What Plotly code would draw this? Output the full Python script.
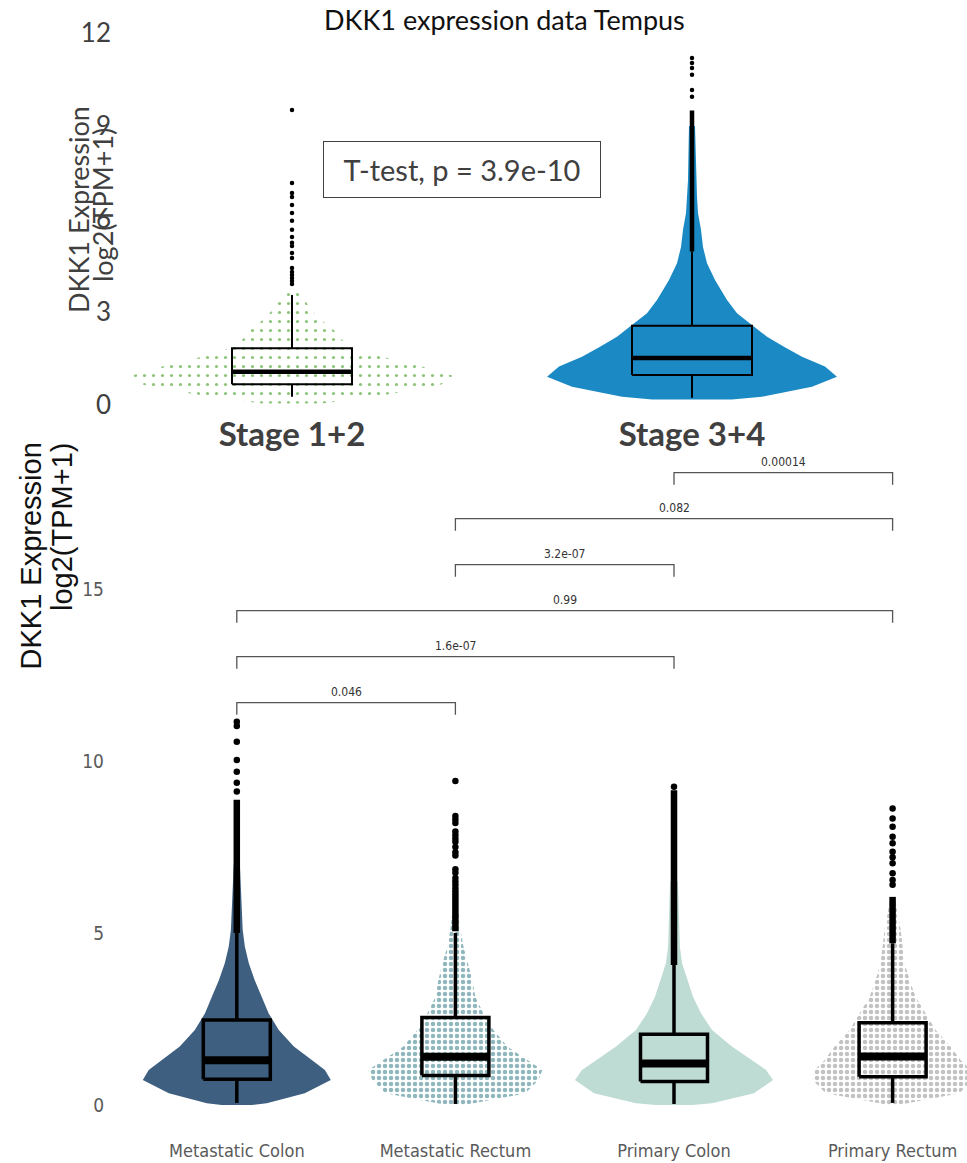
import plotly.graph_objects as go

# ---------------- DATA ----------------
title_text = "DKK1 expression data Tempus"

# Top panel (stage comparison)
top_categories = ["Stage 1+2", "Stage 3+4"]
top_colors = ["#8fc47c", "#1b8ac4"]
top_ticks = [0, 3, 6, 9, 12]
top_q1 = [0.67, 0.97]
top_median = [1.07, 1.52]
top_q3 = [1.83, 2.56]
top_lower = [0.27, 0.23]
top_upper = [3.55, 4.95]
top_dense_outliers = [None, (4.95, 9.5)]
stage12_outliers = [3.90, 4.00, 4.10, 4.19, 4.29, 4.42, 4.74, 4.90, 5.13, 5.23,
                    5.42, 5.65, 5.94, 6.19, 6.45, 6.71, 6.84, 7.16, 9.52]
stage34_outliers = [9.94, 10.16, 10.65, 10.87, 11.03, 11.19]
# cloud profile: expression level vs half-width (fraction of category spacing)
stage12_levels = [0.05, 0.27, 0.59, 0.86, 1.13, 1.45, 1.72, 2.10, 2.42, 2.85, 3.28, 3.60, 3.75]
stage12_halfw = [0.075, 0.205, 0.355, 0.42, 0.36, 0.26, 0.175, 0.125, 0.105, 0.0625, 0.0375, 0.025, 0.01]
stage34_levels = [0.18, 0.27, 0.59, 0.91, 1.24, 1.56, 1.88, 2.20, 2.53, 2.96, 3.39, 4.03,
                  4.57, 5.10, 5.65, 6.19, 6.72, 7.26, 8.0, 9.0]
stage34_halfw = [0.10, 0.175, 0.30, 0.3625, 0.3325, 0.275, 0.23, 0.1875, 0.155, 0.1125,
                 0.0875, 0.0575, 0.0375, 0.0275, 0.0225, 0.015, 0.0125, 0.01, 0.009, 0.0075]
ttest_label = "T-test, p = 3.9e-10"

# Bottom panel (site comparison)
bot_categories = ["Metastatic Colon", "Metastatic Rectum", "Primary Colon", "Primary Rectum"]
bot_colors = ["#3e5f80", "#8fb7bc", "#bfdcd4", "#c2c2c2"]
bot_ticks = [0, 5, 10, 15]
bot_q1 = [0.75, 0.86, 0.68, 0.82]
bot_median = [1.30, 1.40, 1.21, 1.41]
bot_q3 = [2.47, 2.54, 2.06, 2.39]
bot_lower = [0.06, 0.03, 0.03, 0.06]
bot_upper = [5.0, 5.0, 4.07, 4.70]
bot_dense_outliers = [(5.0, 8.87), (5.05, 6.25), (4.07, 9.15), (4.70, 6.05)]
bot_outliers = [
    [9.11, 9.37, 9.69, 10.03, 10.56, 11.02, 11.14],
    [6.30, 6.40, 6.50, 6.60, 6.75, 6.85, 7.25, 7.35, 7.50, 7.65, 7.75, 7.85, 7.95,
     8.20, 8.30, 8.40, 9.42],
    [9.25],
    [6.40, 6.54, 6.74, 7.03, 7.20, 7.36, 7.61, 7.80, 8.09, 8.33, 8.62],
]
bot_levels = [
    [0.0, 0.05, 0.34, 0.73, 1.02, 1.31, 1.70, 2.18, 2.66, 3.15, 3.63, 4.12, 4.60, 5.09, 5.57, 6.05, 7.0],
    [0.0, 0.05, 0.34, 0.73, 1.02, 1.31, 1.70, 2.18, 2.66, 3.15, 3.63, 4.12, 4.60, 5.09, 5.6],
    [0.0, 0.05, 0.34, 0.73, 1.02, 1.31, 1.70, 2.18, 2.66, 3.15, 3.63, 4.12, 4.60, 5.57, 6.5],
    [0.0, 0.05, 0.34, 0.73, 1.02, 1.31, 1.70, 2.18, 2.66, 3.15, 3.63, 4.12, 4.60, 5.09, 5.57, 5.9],
]
bot_halfw = [
    [0.069, 0.137, 0.311, 0.43, 0.403, 0.343, 0.261, 0.192, 0.146, 0.114, 0.082, 0.055, 0.037, 0.027, 0.023, 0.021, 0.014],
    [0.037, 0.082, 0.32, 0.38, 0.398, 0.329, 0.238, 0.174, 0.128, 0.091, 0.078, 0.059, 0.037, 0.023, 0.014],
    [0.082, 0.174, 0.366, 0.453, 0.421, 0.357, 0.265, 0.174, 0.124, 0.087, 0.064, 0.037, 0.027, 0.023, 0.018],
    [0.027, 0.059, 0.306, 0.366, 0.357, 0.311, 0.265, 0.197, 0.151, 0.105, 0.078, 0.055, 0.046, 0.037, 0.023, 0.014],
]
# pairwise comparisons (group index a, group index b, p-value label), bottom to top
comparisons = [(0, 1, "0.046"), (0, 2, "1.6e-07"), (0, 3, "0.99"),
               (1, 2, "3.2e-07"), (1, 3, "0.082"), (2, 3, "0.00014")]

# ---------------- LAYOUT HELPERS ----------------
W, H = 967, 1163
def pxx(x):
    return x / W
def pxy(y):
    return 1 - y / H

# top panel geometry (pixels)
T_LEFT, T_X0, T_DX = 113, 292, 400
T_BOT, T_TOP, T_Y0, T_DY = 412, 20, 405, 31.0
# bottom panel geometry
B_LEFT, B_X0, B_DX = 106, 236.8, 218.6
B_BOT, B_TOP, B_Y0, B_DY = 1120, 445, 1105, 34.4

fig = go.Figure()

def add_group(xa, ya, pos, levels, halfw, color, pattern):
    xs = [pos - w for w in halfw] + [pos + w for w in reversed(halfw)]
    ys = list(levels) + list(reversed(levels))
    kw = dict(x=xs, y=ys, mode="lines", fill="toself", line=dict(width=0),
              xaxis=xa, yaxis=ya, showlegend=False, hoverinfo="skip")
    if pattern:
        kw["fillcolor"] = "rgba(255,255,255,0)"
        kw["fillpattern"] = dict(shape=".", fgcolor=color, bgcolor="rgba(255,255,255,0)",
                                 size=pattern[0], solidity=pattern[1], fillmode="replace")
    else:
        kw["fillcolor"] = color
    fig.add_trace(go.Scatter(**kw))

# ---- top clouds
add_group("x", "y", 0, stage12_levels, stage12_halfw, top_colors[0], (9, 0.1))
add_group("x", "y", 1, stage34_levels, stage34_halfw, top_colors[1], None)
# ---- bottom clouds
bot_patterns = [None, (6, 0.45), None, (6, 0.45)]
for i in range(4):
    add_group("x2", "y2", i, bot_levels[i], bot_halfw[i], bot_colors[i], bot_patterns[i])

def add_boxes(xa, ya, q1, med, q3, lo, up, bw, lw, medw, dense, outl, msize, densew):
    pos = list(range(len(q1)))
    bx, by = [], []
    for p, a, b, l, u in zip(pos, q1, q3, lo, up):
        bx += [p - bw / 2, p + bw / 2, p + bw / 2, p - bw / 2, p - bw / 2, None,
               p, p, None, p, p, None]
        by += [a, a, b, b, a, None, l, a, None, b, u, None]
    fig.add_trace(go.Scatter(x=bx, y=by, mode="lines", line=dict(color="black", width=lw),
                             xaxis=xa, yaxis=ya, showlegend=False, hoverinfo="skip"))
    mx, my = [], []
    for p, m in zip(pos, med):
        mx += [p - bw / 2, p + bw / 2, None]
        my += [m, m, None]
    fig.add_trace(go.Scatter(x=mx, y=my, mode="lines", line=dict(color="black", width=medw),
                             xaxis=xa, yaxis=ya, showlegend=False, hoverinfo="skip"))
    dx, dy = [], []
    for p, d in zip(pos, dense):
        if d:
            dx += [p, p, None]
            dy += [d[0], d[1], None]
    fig.add_trace(go.Scatter(x=dx, y=dy, mode="lines", line=dict(color="black", width=densew),
                             xaxis=xa, yaxis=ya, showlegend=False, hoverinfo="skip"))
    ox, oy = [], []
    for p, vals in zip(pos, outl):
        ox += [p] * len(vals)
        oy += vals
    fig.add_trace(go.Scatter(x=ox, y=oy, mode="markers", marker=dict(color="black", size=msize),
                             xaxis=xa, yaxis=ya, showlegend=False, hoverinfo="skip"))

add_boxes("x", "y", top_q1, top_median, top_q3, top_lower, top_upper,
          120 / T_DX, 2, 4.5, top_dense_outliers, [stage12_outliers, stage34_outliers], 4.5, 4.5)
add_boxes("x2", "y2", bot_q1, bot_median, bot_q3, bot_lower, bot_upper,
          67 / B_DX, 3.5, 8, bot_dense_outliers, bot_outliers, 6.5, 6.5)

# ---- significance brackets
base_y = (B_Y0 - 702.7) / B_DY
step_y = 46 / B_DY
tick_len = 12 / B_DY
narrow = "Liberation Sans Narrow, DejaVu Sans Condensed, sans-serif"
annotations = []
for k, (a, b, lab) in enumerate(comparisons):
    yy = base_y + k * step_y
    fig.add_trace(go.Scatter(x=[a, a, b, b], y=[yy - tick_len, yy, yy, yy - tick_len],
                             mode="lines", line=dict(color="#555555", width=1.3),
                             xaxis="x2", yaxis="y2", showlegend=False, hoverinfo="skip"))
    annotations.append(dict(x=(a + b) / 2, y=yy, xref="x2", yref="y2", text=lab,
                            showarrow=False, xanchor="center", yanchor="bottom", yshift=2,
                            font=dict(family=narrow, size=12, color="#333333")))

# ---- text annotations
def note(x, y, text, size, family, color, angle=0, xanchor="center", yanchor="middle", **kw):
    d = dict(x=pxx(x), y=pxy(y), xref="paper", yref="paper", text=text, showarrow=False,
             textangle=angle, xanchor=xanchor, yanchor=yanchor,
             font=dict(family=family, size=size, color=color))
    d.update(kw)
    return d

lato = "Lato, sans-serif"
arial = "Liberation Sans, Arial, sans-serif"
annotations += [
    note(504, 20, title_text, 27, lato, "#111111"),
    note(462, 169.5, ttest_label, 29, lato, "#404040", width=272, height=51,
         bordercolor="#404040", borderwidth=1, borderpad=2),
    note(78, 210, "DKK1 Expression", 27, lato, "#404040", angle=-90),
    note(103, 205, "log2(TPM+1)", 27, lato, "#404040", angle=-90),
    note(30, 441, "DKK1 Expression", 29, arial, "#111111", angle=-90, yanchor="top"),
    note(62, 441, "log2(TPM+1)", 29, arial, "#111111", angle=-90, yanchor="top"),
]

fig.update_layout(
    width=W, height=H, margin=dict(l=0, r=0, t=0, b=0, autoexpand=False),
    paper_bgcolor="white", plot_bgcolor="white", showlegend=False,
    annotations=annotations,
    xaxis=dict(domain=[pxx(T_LEFT), 1], range=[(T_LEFT - T_X0) / T_DX, (W - T_X0) / T_DX],
               tickvals=[0, 1], ticktext=top_categories, showgrid=False, zeroline=False,
               showline=False, ticks="", ticklabelstandoff=0, automargin=False,
               tickfont=dict(family=lato, size=33, color="#404040", weight="bold")),
    yaxis=dict(domain=[pxy(T_BOT), pxy(T_TOP)],
               range=[-(T_BOT - T_Y0) / T_DY, (T_Y0 - T_TOP) / T_DY],
               tickvals=top_ticks, showgrid=False, zeroline=False, showline=False, ticks="",
               ticklabelstandoff=1, automargin=False,
               tickfont=dict(family=lato, size=26, color="#404040")),
    xaxis2=dict(domain=[pxx(B_LEFT), 1], range=[(B_LEFT - B_X0) / B_DX, (W - B_X0) / B_DX],
                anchor="y2", tickvals=[0, 1, 2, 3], ticktext=bot_categories, showgrid=False,
                zeroline=False, showline=False, ticks="", ticklabelstandoff=18, automargin=False,
                tickfont=dict(family=narrow, size=18, color="#5a5a5a")),
    yaxis2=dict(domain=[pxy(B_BOT), pxy(B_TOP)],
                range=[-(B_BOT - B_Y0) / B_DY, (B_Y0 - B_TOP) / B_DY],
                anchor="x2", tickvals=bot_ticks, showgrid=False, zeroline=False,
                showline=False, ticks="", ticklabelstandoff=1, automargin=False,
                tickfont=dict(family=narrow, size=19, color="#5a5a5a")),
)

fig.write_html("out.html", config={"displayModeBar": False},
               post_script="document.body.style.margin='0px';")
